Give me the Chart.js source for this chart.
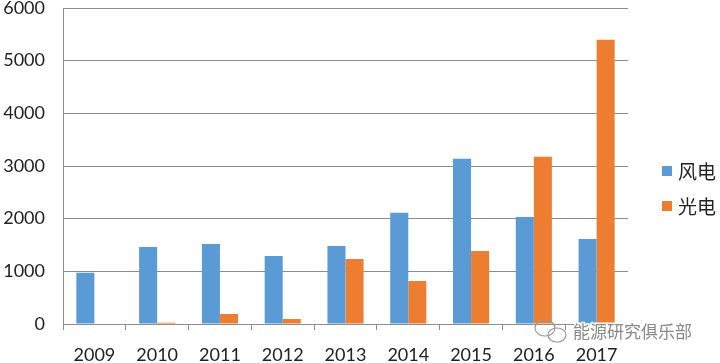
<!DOCTYPE html>
<html>
<head>
<meta charset="utf-8">
<script src="https://cdn.jsdelivr.net/npm/chart.js@4"></script>
<style>
  html, body { margin: 0; padding: 0; background: #fff; }
  #wrap { width: 720px; height: 363px; }
</style>
</head>
<body>
<div id="wrap"><canvas id="myChart"></canvas></div>
<script>
const years = ["2009", "2010", "2011", "2012", "2013", "2014", "2015", "2016", "2017"];
const windPower = [975, 1464, 1521, 1293, 1483, 2110, 3137, 2034, 1616];
const solarPower = [0, 25, 190, 95, 1236, 817, 1388, 3175, 5399];
const seriesNames = ["风电", "光电"];
const seriesColors = ["#5B9BD5", "#ED7D31"];

const cjkFont = "'Noto Sans CJK SC', sans-serif";
const numFont = "Lato, 'Liberation Sans', sans-serif";

// legend + watermark drawn by hand so the box sits where the original one does
const sideLegend = {
  id: "sideLegend",
  afterDraw(chart) {
    const c = chart.ctx;
    c.save();
    chart.data.datasets.forEach((ds, i) => {
      const y = 171 + i * 35;
      c.fillStyle = ds.backgroundColor;
      c.fillRect(662, y - 5, 10, 10);
      c.fillStyle = "#222";
      c.font = "19px " + cjkFont;
      c.textBaseline = "middle";
      c.fillText(ds.label, 678, y + 1);
    });
    c.font = "17px " + cjkFont;
    c.textBaseline = "middle";
    c.lineWidth = 3;
    c.strokeStyle = "rgba(255,255,255,0.9)";
    c.strokeText("能源研究俱乐部", 573, 332);
    c.fillStyle = "#8a8a8a";
    c.fillText("能源研究俱乐部", 573, 332);
    c.strokeStyle = "#9a9a9a";
    c.lineWidth = 1.2;
    c.beginPath();
    c.ellipse(545, 328, 10, 8, 0, 0, Math.PI * 2);
    c.stroke();
    c.beginPath();
    c.ellipse(557, 335, 9, 7, 0, 0, Math.PI * 2);
    c.stroke();
    c.restore();
  },
};

const ctx = document.getElementById("myChart");

new Chart(ctx, {
  type: "bar",
  data: {
    labels: years,
    datasets: [
      {
        label: seriesNames[0],
        data: windPower,
        backgroundColor: seriesColors[0],
        categoryPercentage: 0.575,
        barPercentage: 1,
      },
      {
        label: seriesNames[1],
        data: solarPower,
        backgroundColor: seriesColors[1],
        categoryPercentage: 0.575,
        barPercentage: 1,
      },
    ],
  },
  options: {
    responsive: true,
    maintainAspectRatio: false,
    animation: false,
    layout: {
      padding: { top: 8, right: 92, left: 0, bottom: 0 },
    },
    scales: {
      x: {
        afterFit(scale) {
          scale.height = 39;
        },
        grid: {
          display: true,
          drawOnChartArea: false,
          drawTicks: true,
          tickLength: 6,
          color: "#8c8c8c",
          offset: true,
        },
        border: { color: "#8c8c8c" },
        ticks: {
          color: "#222",
          padding: 14,
          maxRotation: 0,
          font: { family: numFont, size: 18 },
        },
      },
      y: {
        min: 0,
        max: 6000,
        afterFit(scale) {
          scale.width = 63;
          scale.paddingTop = 0;
          scale.paddingBottom = 0;
        },
        grid: {
          color: "#8c8c8c",
          drawTicks: false,
        },
        border: { color: "#8c8c8c" },
        ticks: {
          stepSize: 1000,
          color: "#222",
          padding: 18,
          format: { useGrouping: false },
          font: { family: numFont, size: 18 },
        },
      },
    },
    plugins: {
      legend: { display: false },
      tooltip: { enabled: false },
    },
  },
  plugins: [sideLegend],
});
</script>
</body>
</html>
